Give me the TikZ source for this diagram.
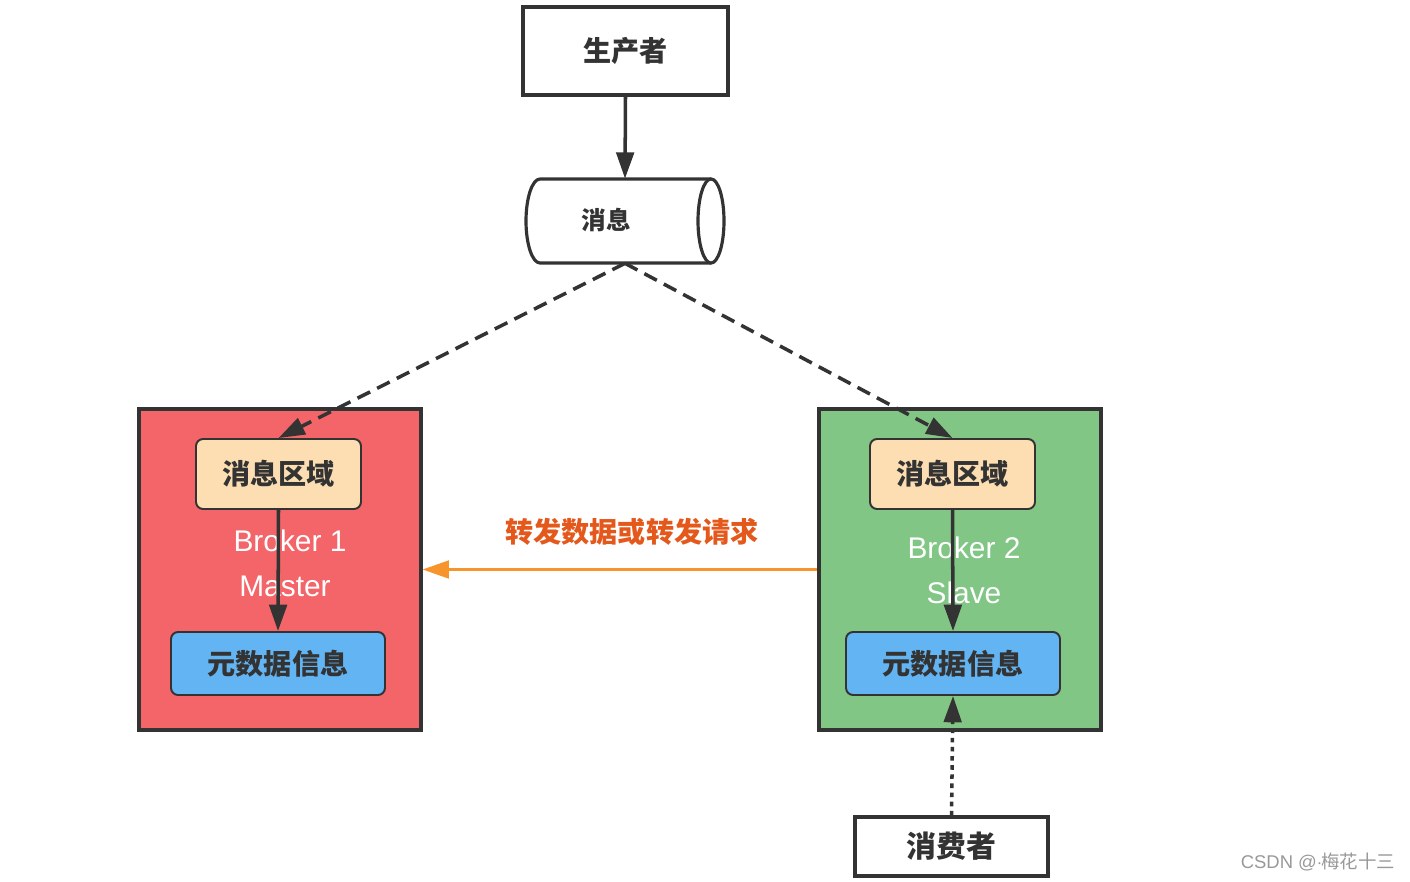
\documentclass[tikz,border=0pt]{standalone}
\usepackage{fontspec}
\setmainfont{Liberation Sans}
\newfontfamily\cjk{Noto Sans CJK SC}
\usetikzlibrary{arrows.meta}
\definecolor{ink}{HTML}{333333}
\definecolor{redfill}{HTML}{F4656A}
\definecolor{greenfill}{HTML}{82C686}
\definecolor{peach}{HTML}{FDDEB2}
\definecolor{bluefill}{HTML}{63B4F2}
\definecolor{orangeline}{HTML}{F7942C}
\definecolor{orangetext}{HTML}{E4581C}
\tikzset{
  cn/.style={font=\cjk\bfseries\fontsize{#1}{#1}\selectfont},
  plainbox/.style={draw=ink, line width=1.8pt, fill=white, text=ink, cn=16, inner sep=0pt},
  brokerbox/.style={draw=ink, line width=1.8pt, inner sep=0pt, minimum width=5.64cm, minimum height=6.42cm},
  areabox/.style={draw=ink, line width=1.1pt, rounded corners=4pt, fill=peach, text=ink, cn=16, inner sep=0pt, minimum width=3.3cm, minimum height=1.4cm},
  metabox/.style={draw=ink, line width=1.1pt, rounded corners=4pt, fill=bluefill, text=ink, cn=16, inner sep=0pt, minimum width=4.28cm, minimum height=1.26cm},
  blabel/.style={text=white, font=\fontsize{17}{20}\selectfont},
  tip/.style={-{Triangle[length=15pt,width=10pt]}},
  conn/.style={draw=ink, line width=2pt, tip},
}
\begin{document}
\begin{tikzpicture}[x=0.02cm, y=-0.02cm]
\useasboundingbox[fill=white] (0,0) rectangle (1410,882);

% producer
\node[plainbox, minimum width=4.1cm, minimum height=1.76cm] (prod) at (625.5,51) {生产者};

% message cylinder
\node[minimum width=3.96cm, minimum height=1.68cm, inner sep=0pt] (cyl) at (625,221) {};
\draw[ink, line width=1.8pt, fill=white] (711,179) -- (540,179)
  arc[start angle=270, end angle=90, x radius=14, y radius=42] -- (711,263);
\draw[ink, line width=1.8pt, fill=white] (711,221) ellipse [x radius=13, y radius=42];
\node[text=ink, cn=14] (cyltext) at (606,220) {消息};

% brokers
\node[brokerbox, fill=redfill] (b1) at (280,569.5) {};
\node[brokerbox, fill=greenfill] (b2) at (960,569.5) {};

\node[areabox] (a1) at (278.5,474) {消息区域};
\node[metabox] (m1) at (278,663.5) {元数据信息};
\node[areabox] (a2) at (952.5,474) {消息区域};
\node[metabox] (m2) at (953,663.5) {元数据信息};

\node[blabel] (l1a) at (290,541) {Broker 1};
\node[blabel] (l1b) at (285,586) {Master};
\node[blabel] (l2a) at (964,548) {Broker 2};
\node[blabel] (l2b) at (964,593) {Slave};

% consumer
\node[plainbox, cn=17, minimum width=3.86cm, minimum height=1.18cm] (cons) at (951.5,846.5) {消费者};

% connectors
\draw[conn] (prod.south) -- (cyl.north);
\draw[conn, dash pattern=on 8pt off 4.5pt] (cyl.south) -- (a1.north);
\draw[conn, dash pattern=on 8pt off 4.5pt] (cyl.south) -- (a2.north);
\draw[conn] (a1.south) -- (m1.north);
\draw[conn] (a2.south) -- (m2.north);
\draw[conn, dash pattern=on 2.6pt off 2.6pt] (cons.north) -- (m2.south);
\draw[draw=orangeline, line width=1.8pt, -{Triangle[length=15pt,width=10pt]}, orangeline] (b2.west) -- (b1.east);
\node[text=orangetext, cn=16] (fwd) at (632,532) {转发数据或转发请求};

% watermark
\node[text=black!40, font=\fontsize{10.5}{12}\selectfont] (wm) at (1318,862) {CSDN @$\cdot$\kern-0.5pt{\cjk 梅花十三}};
\end{tikzpicture}
\end{document}
